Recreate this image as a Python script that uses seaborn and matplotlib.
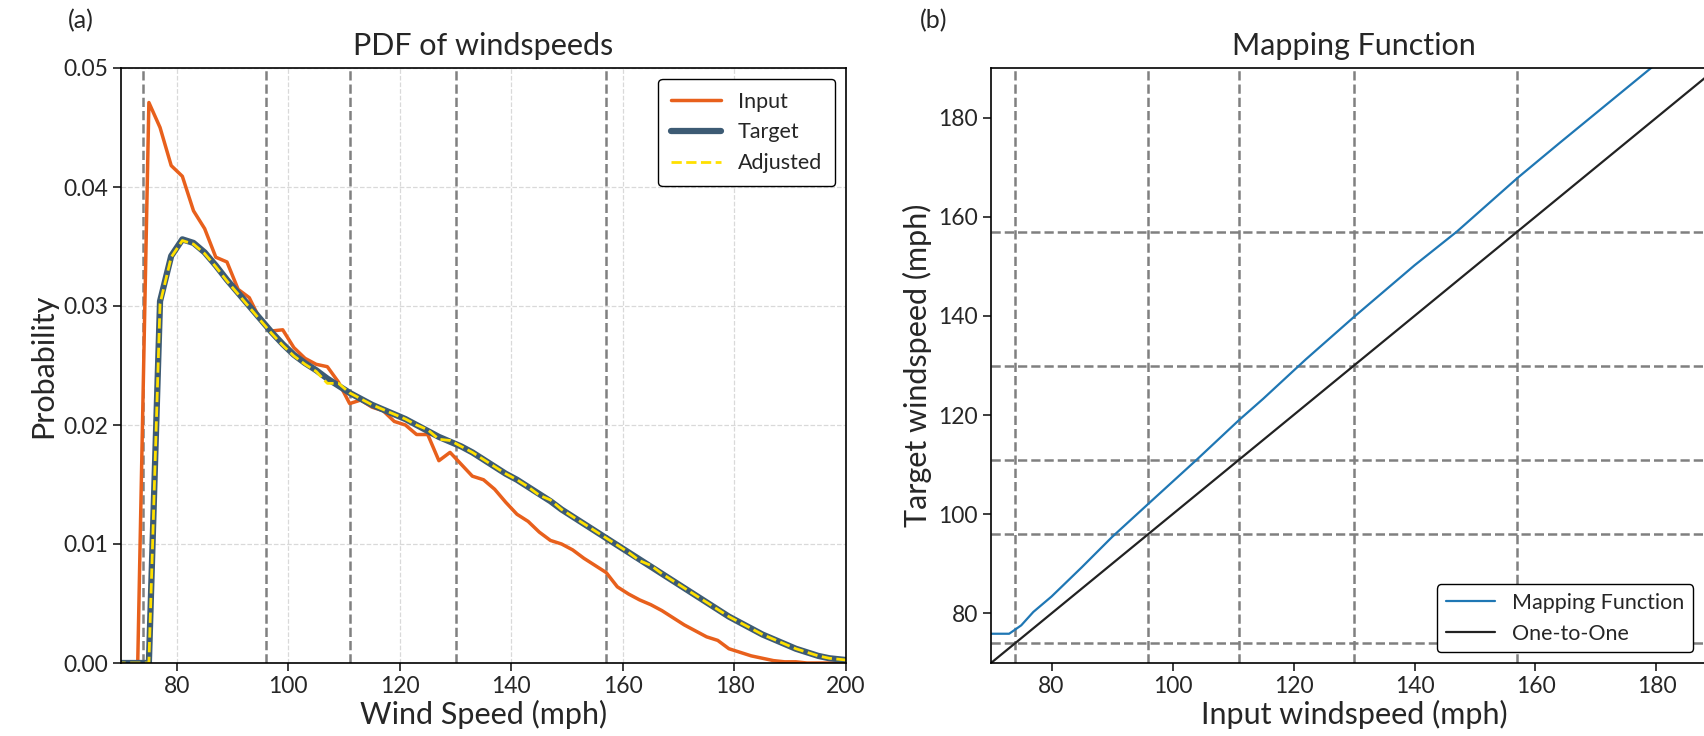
import numpy as np
import pandas as pd
import matplotlib
matplotlib.use('Agg')
import matplotlib.pyplot as plt
import seaborn as sns

# bin centres of the windspeed pdf (mph)
wind = np.arange(69, 202, 2)

pdf_input = [0, 0, 0, 0.0471, 0.0450, 0.0418, 0.0409, 0.0380, 0.0365, 0.0341,
             0.0337, 0.0314, 0.0307, 0.0288, 0.0279, 0.0280, 0.0265, 0.0256, 0.0251, 0.0249,
             0.0236, 0.0218, 0.0221, 0.0215, 0.0212, 0.0203, 0.0200, 0.0192, 0.0192, 0.0170,
             0.0177, 0.0167, 0.0157, 0.0154, 0.0146, 0.0135, 0.0125, 0.0119, 0.0110, 0.0103,
             0.0100, 0.0095, 0.0088, 0.0082, 0.0076, 0.0064, 0.0058, 0.0053, 0.0049, 0.0044,
             0.0038, 0.0032, 0.0027, 0.0022, 0.0019, 0.0012, 0.0009, 0.0006, 0.0004, 0.0002,
             0.0001, 0.0001, 0, 0, 0, 0, 0]

pdf_target = [0, 0, 0, 0, 0.0304, 0.0342, 0.0356, 0.0353, 0.0345, 0.0334,
              0.0322, 0.0311, 0.0300, 0.0289, 0.0278, 0.0268, 0.0259, 0.0252, 0.0246, 0.0239,
              0.0233, 0.0227, 0.0222, 0.0217, 0.0213, 0.0209, 0.0205, 0.0200, 0.0195, 0.0190,
              0.0186, 0.0182, 0.0177, 0.0171, 0.0165, 0.0159, 0.0154, 0.0148, 0.0142, 0.0136,
              0.0129, 0.0123, 0.0117, 0.0111, 0.0105, 0.0099, 0.0093, 0.0087, 0.0081, 0.0075,
              0.0069, 0.0063, 0.0057, 0.0051, 0.0045, 0.0039, 0.0034, 0.0029, 0.0024, 0.0020,
              0.0016, 0.0012, 0.0009, 0.0006, 0.0004, 0.0003, 0.0002]

pdf_adjusted = [0, 0, 0, 0, 0.0302, 0.0341, 0.0355, 0.0352, 0.0344, 0.0333,
                0.0321, 0.0310, 0.0299, 0.0288, 0.0277, 0.0267, 0.0258, 0.0251, 0.0245, 0.0235,
                0.0235, 0.0227, 0.0222, 0.0217, 0.0213, 0.0209, 0.0205, 0.0200, 0.0196, 0.0188,
                0.0187, 0.0182, 0.0177, 0.0171, 0.0165, 0.0159, 0.0154, 0.0148, 0.0141, 0.0137,
                0.0129, 0.0123, 0.0117, 0.0111, 0.0105, 0.0099, 0.0093, 0.0086, 0.0082, 0.0075,
                0.0069, 0.0063, 0.0057, 0.0051, 0.0045, 0.0039, 0.0034, 0.0029, 0.0024, 0.0020,
                0.0016, 0.0012, 0.0009, 0.0006, 0.0004, 0.0003, 0.0002]

# mapping function: input speed -> target speed
map_in = [70, 73, 75, 77, 80, 85, 90, 96, 104, 111, 115, 122, 130, 140, 147, 157, 164, 170, 179, 190]
map_out = [75.9, 75.9, 77.6, 80.3, 83.4, 89.3, 95.4, 102.1, 111.0, 119.0, 123.3, 131.2, 139.8,
           150.2, 157.0, 167.8, 174.9, 180.9, 189.9, 201.0]
one_to_one = [70, 190]

# Saffir-Simpson thresholds
cat_thresholds = [74, 96, 111, 130, 157]

sns.set_theme(style='ticks')
plt.rcParams['font.family'] = ['Lato', 'DejaVu Sans']
plt.rcParams['xtick.labelsize'] = 16.5
plt.rcParams['ytick.labelsize'] = 16.5
plt.rcParams['axes.edgecolor'] = 'black'
plt.rcParams['axes.linewidth'] = 1.2

fig = plt.figure(figsize=(17.04, 7.36), dpi=100)
ax1 = fig.add_axes([121 / 1704, 73 / 736, 725 / 1704, 595 / 736])
ax2 = fig.add_axes([991 / 1704, 73 / 736, 726 / 1704, 595 / 736])

df = pd.DataFrame({'wind': wind, 'Input': pdf_input, 'Target': pdf_target, 'Adjusted': pdf_adjusted})

# (a) pdfs
ax1.grid(True, ls='--', color='#d9d9d9', lw=0.9)
ax1.set_axisbelow(True)
for t in cat_thresholds:
    ax1.axvline(t, color='gray', ls='--', lw=1.8)
sns.lineplot(data=df, x='wind', y='Input', ax=ax1, color='#E8601C', lw=2.5, label='Input')
sns.lineplot(data=df, x='wind', y='Target', ax=ax1, color='#3D5B74', lw=4.5, label='Target')
sns.lineplot(data=df, x='wind', y='Adjusted', ax=ax1, color='#FFE000', lw=2, ls='--', label='Adjusted')
ax1.set_xlim(70, 200)
ax1.set_ylim(0, 0.05)
ax1.set_xticks([80, 100, 120, 140, 160, 180, 200])
ax1.set_yticks([0, 0.01, 0.02, 0.03, 0.04, 0.05])
ax1.yaxis.set_major_formatter(matplotlib.ticker.FormatStrFormatter('%.2f'))
ax1.set_xlabel('Wind Speed (mph)', fontsize=22, labelpad=2)
ax1.set_ylabel('Probability', fontsize=22)
ax1.set_title('PDF of windspeeds', fontsize=22, pad=9)
leg = ax1.legend(loc='upper right', fontsize=15.5, frameon=True, fancybox=True,
                 edgecolor='black', framealpha=1, borderpad=0.6, handlelength=2.3)
leg.get_frame().set_linewidth(1.0)

# (b) mapping function
for t in cat_thresholds:
    ax2.axvline(t, color='gray', ls='--', lw=1.8)
    ax2.axhline(t, color='gray', ls='--', lw=1.8)
sns.lineplot(x=map_in, y=map_out, ax=ax2, color='#1f77b4', lw=1.6, label='Mapping Function')
sns.lineplot(x=one_to_one, y=one_to_one, ax=ax2, color='#222222', lw=1.6, label='One-to-One')
ax2.set_xlim(70, 190)
ax2.set_ylim(70, 190)
ax2.set_xticks([80, 100, 120, 140, 160, 180])
ax2.set_yticks([80, 100, 120, 140, 160, 180])
ax2.set_xlabel('Input windspeed (mph)', fontsize=22, labelpad=2)
ax2.set_ylabel('Target windspeed (mph)', fontsize=22)
ax2.set_title('Mapping Function', fontsize=22, pad=9)
leg2 = ax2.legend(loc='lower right', bbox_to_anchor=(0.982, 0.0), fontsize=15.5, frameon=True,
                  edgecolor='black', framealpha=1, handlelength=2.3)
leg2.get_frame().set_linewidth(1.0)

fig.text(68 / 1704, 1 - 21 / 736, '(a)', fontsize=18, va='center')
fig.text(920 / 1704, 1 - 21 / 736, '(b)', fontsize=18, va='center')

fig.savefig('out.png', dpi=100)
